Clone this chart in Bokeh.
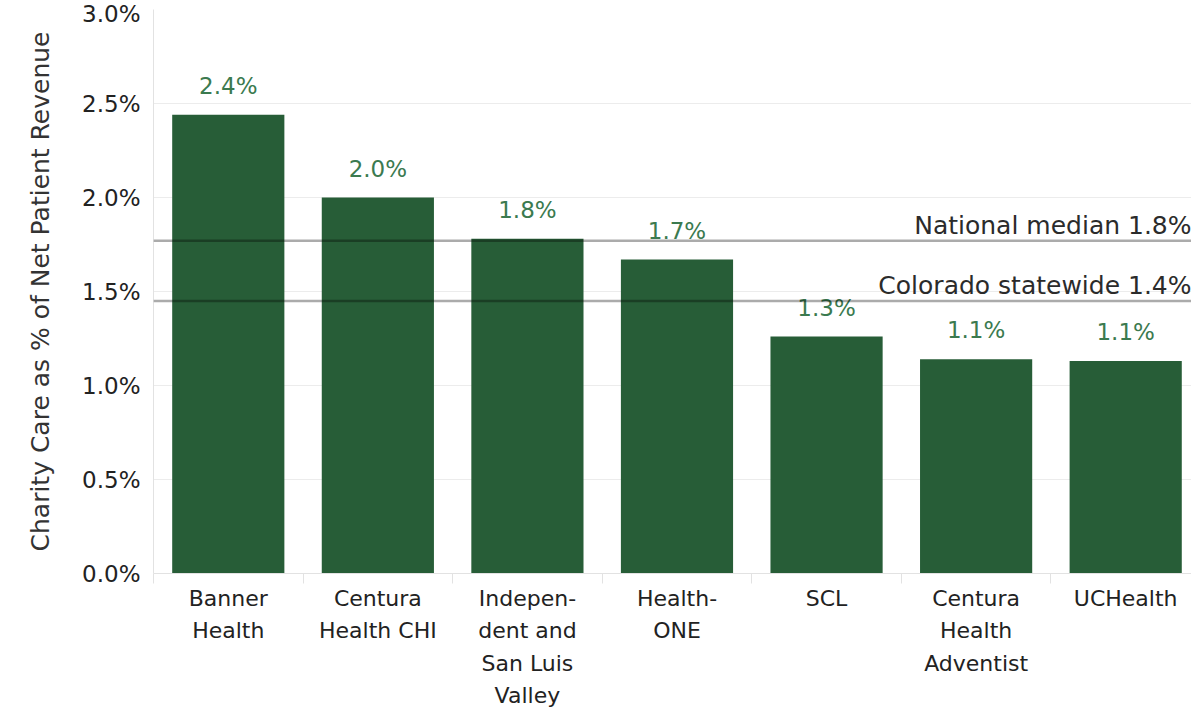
from bokeh.plotting import figure
from bokeh.models import FixedTicker, PrintfTickFormatter, Range1d, ColumnDataSource, Span
from bokeh.core.properties import value
from bokeh.embed import file_html
from bokeh.resources import INLINE

# ---- data ----
categories = ["Banner\nHealth", "Centura\nHealth CHI", "Indepen-\ndent and\nSan Luis\nValley",
              "Health-\nONE", "SCL", "Centura\nHealth\nAdventist", "UCHealth"]
charity_pct = [2.44, 2.00, 1.78, 1.67, 1.26, 1.14, 1.13]
ref_names = ["National median 1.8%", "Colorado statewide 1.4%"]
ref_values = [1.77, 1.45]
y_ticks = [0.0, 0.5, 1.0, 1.5, 2.0, 2.5, 3.0]

FONT = "DejaVu Sans"
BAR = "#275D37"
LABEL_GREEN = "#3B7A4F"

xs = list(range(len(categories)))
src = ColumnDataSource(dict(x=xs, top=charity_pct,
                            lbl=[f"{v:.1f}%" for v in charity_pct]))

p = figure(width=1191, height=711, output_backend="svg", toolbar_location=None,
           x_range=Range1d(-0.5, 6.44), y_range=Range1d(0, 3.0),
           min_border_left=153, min_border_right=0, min_border_top=9, min_border_bottom=138)
p.outline_line_color = None
p.background_fill_color = "white"
p.border_fill_color = "white"

p.vbar(x="x", top="top", width=0.75, source=src, fill_color=BAR, line_color=None)

p.text(x="x", y="top", text="lbl", source=src, text_align="center",
       text_baseline="alphabetic", y_offset=-29, text_color=LABEL_GREEN,
       text_font=value(FONT), text_font_size="23px")

# reference lines
for name, v in zip(ref_names, ref_values):
    p.add_layout(Span(location=v, dimension="width", line_color="black",
                      line_alpha=0.33, line_width=2.5))
ref_src = ColumnDataSource(dict(x=[6.44] * len(ref_values), y=ref_values, t=ref_names))
p.text(x="x", y="y", text="t", source=ref_src, text_align="right",
       text_baseline="alphabetic", y_offset=-15, text_color="#2b2b2b",
       text_font=value(FONT), text_font_size="25px")

# x axis
p.xaxis.ticker = FixedTicker(ticks=xs, minor_ticks=[i - 0.5 for i in range(len(categories) + 1)])
p.xaxis.major_label_overrides = {i: c for i, c in enumerate(categories)}
p.xaxis.major_tick_out = 0
p.xaxis.major_tick_in = 0
p.xaxis.minor_tick_out = 10
p.xaxis.minor_tick_in = 0
p.xaxis.minor_tick_line_color = "#e2e2e2"
p.xaxis.axis_line_color = "#e2e2e2"
p.xaxis.major_label_text_font = FONT
p.xaxis.major_label_text_font_size = "22px"
p.xaxis.major_label_text_color = "#222222"
p.xaxis.major_label_text_line_height = 1.3
p.xaxis.major_label_standoff = 2

# y axis
p.yaxis.ticker = FixedTicker(ticks=y_ticks)
p.yaxis.formatter = PrintfTickFormatter(format="%.1f%%")
p.yaxis.major_tick_out = 0
p.yaxis.major_tick_in = 0
p.yaxis.minor_tick_out = 0
p.yaxis.minor_tick_in = 0
p.yaxis.axis_line_color = "#e2e2e2"
p.yaxis.major_label_text_font = FONT
p.yaxis.major_label_text_font_size = "23px"
p.yaxis.major_label_text_color = "#222222"
p.yaxis.major_label_standoff = 13
p.yaxis.axis_label = "Charity Care as % of Net Patient Revenue"
p.yaxis.axis_label_text_font = FONT
p.yaxis.axis_label_text_font_size = "25px"
p.yaxis.axis_label_text_font_style = "normal"
p.yaxis.axis_label_text_color = "#333333"
p.yaxis.axis_label_standoff = 24

p.xgrid.grid_line_color = None
p.ygrid.grid_line_color = "#ececec"
p.ygrid.ticker = FixedTicker(ticks=y_ticks)

open("out.html", "w").write(file_html(p, INLINE))
